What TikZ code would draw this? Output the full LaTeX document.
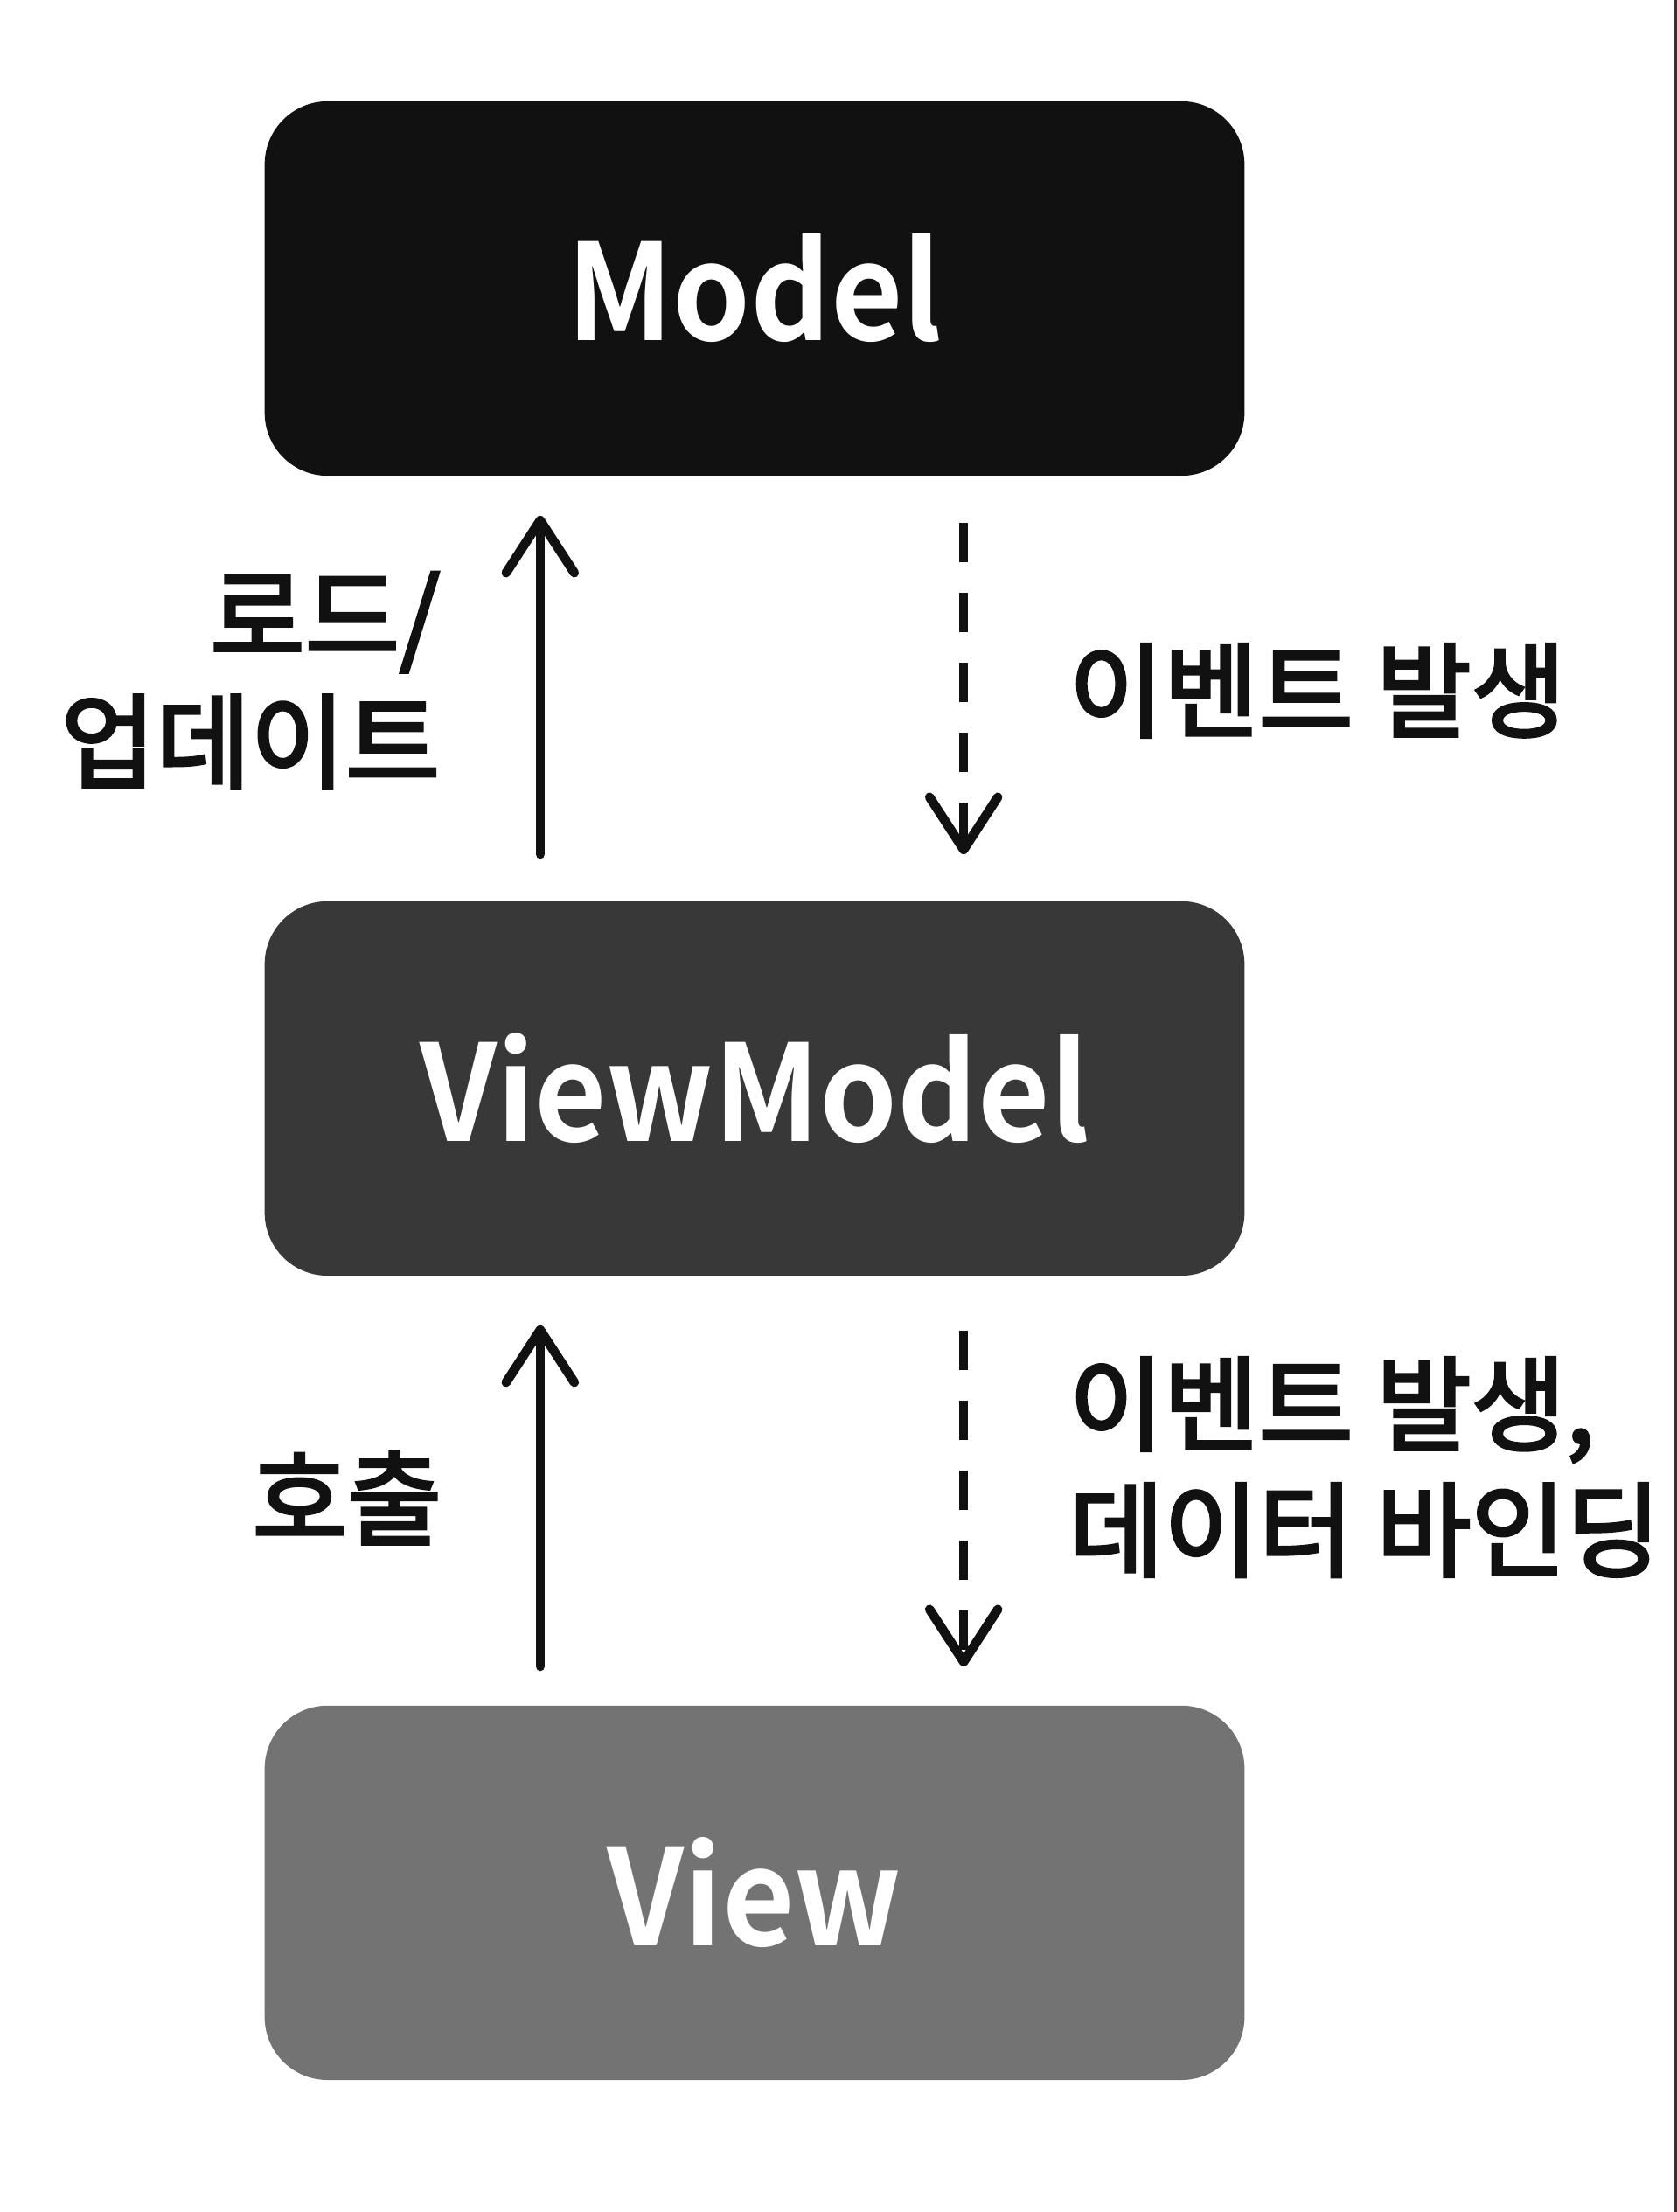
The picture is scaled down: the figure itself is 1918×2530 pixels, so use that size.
\documentclass[tikz,border=0pt]{standalone}
\usepackage{fontspec}
\setmainfont{Noto Sans CJK KR}
\newfontfamily\layerfont{Noto Sans CJK KR Bold}[FakeStretch=0.93]
\newfontfamily\tagfont{Noto Sans CJK KR}[FakeBold=3]
\usetikzlibrary{arrows.meta,positioning}

\definecolor{modelfill}{HTML}{111111}
\definecolor{vmfill}{HTML}{383838}
\definecolor{viewfill}{HTML}{737373}
\definecolor{inkcol}{HTML}{111111}
\definecolor{edgecol}{HTML}{333333}

\tikzset{
  layer/.style={rounded corners=0.72cm, minimum width=11.2cm, minimum height=4.28cm,
    inner sep=0pt, text=white, font=\layerfont\fontsize{43.5}{48}\selectfont},
  flowup/.style={draw=inkcol, line width=3pt, line cap=round,
    -{Straight Barb[length=0.6cm,width=0.78cm,round]}},
  flowdown/.style={flowup, line cap=butt, dash pattern=on 0.45cm off 0.35cm},
  tag/.style={text=inkcol, inner sep=0pt, font=\tagfont\fontsize{33.5}{41}\selectfont},
}

\begin{document}
\begin{tikzpicture}[x=0.01cm,y=-0.01cm]
  \fill[white] (0,0) rectangle (1918,2530);
  \useasboundingbox (0,0) rectangle (1918,2530);
  \draw[edgecol, line width=0.85pt] (1916.5,0) -- (1916.5,2530);

  % layers
  \node[layer, fill=modelfill] (model) at (863,330) {Model};
  \node[layer, fill=vmfill, below=4.85cm of model] (viewmodel) {ViewModel};
  \node[layer, fill=viewfill, below=4.9cm of viewmodel] (view) {View};

  % model <-> viewmodel
  \draw[flowup] ([xshift=-2.45cm,yshift=0.53cm]viewmodel.north) -- ([xshift=-2.45cm,yshift=-0.45cm]model.south);
  \draw[flowdown] ([xshift=2.39cm,yshift=-0.53cm]model.south) -- ([xshift=2.39cm,yshift=0.53cm]viewmodel.north);
  \node[tag, anchor=east, align=right] (load) at (504,778) {로드/\\업데이트};
  \node[tag, anchor=west] (event) at (1222,790) {이벤트 발생};

  % viewmodel <-> view
  \draw[flowup] ([xshift=-2.45cm,yshift=0.44cm]view.north) -- ([xshift=-2.45cm,yshift=-0.56cm]viewmodel.south);
  \draw[flowdown] ([xshift=2.39cm,yshift=-0.62cm]viewmodel.south) -- ([xshift=2.39cm,yshift=0.44cm]view.north);
  \node[tag, anchor=east] (call) at (506,1713) {호출};
  \node[tag, anchor=west, align=left] (bind) at (1222,1678) {이벤트 발생,\\데이터 바인딩};
\end{tikzpicture}
\end{document}
